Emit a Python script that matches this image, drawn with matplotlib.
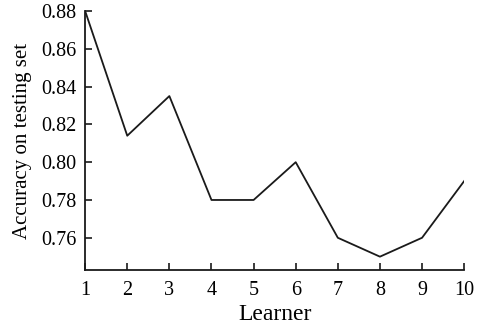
import matplotlib
matplotlib.use('Agg')
import matplotlib.pyplot as plt

learners = [1, 2, 3, 4, 5, 6, 7, 8, 9, 10]
accuracy = [0.88, 0.814, 0.835, 0.78, 0.78, 0.80, 0.76, 0.75, 0.76, 0.79]
y_ticks = [0.76, 0.78, 0.80, 0.82, 0.84, 0.86, 0.88]

plt.rcParams['font.family'] = ['Liberation Serif', 'DejaVu Serif']

fig = plt.figure(figsize=(4.81, 3.24), dpi=100)
ax = fig.add_axes([0.177, 0.167, 0.788, 0.799])

ax.plot(learners, accuracy, color='#1a1a1a', lw=1.3)

ax.set_xlim(1, 10)
ax.set_ylim(0.743, 0.88)
ax.set_xticks(learners)
ax.set_yticks(y_ticks)
ax.set_yticklabels(['%.2f' % v for v in y_ticks])

ax.spines['top'].set_visible(False)
ax.spines['right'].set_visible(False)
for s in ['left', 'bottom']:
    ax.spines[s].set_linewidth(1.3)
    ax.spines[s].set_color('#1a1a1a')
ax.tick_params(direction='in', length=5, width=1.2, labelsize=14.5, color='#1a1a1a')
ax.tick_params(axis='x', pad=8)
ax.tick_params(axis='y', pad=6)

ax.set_xlabel('Learner', fontsize=17, labelpad=3)
ax.set_ylabel('Accuracy on testing set', fontsize=15, labelpad=7)

fig.savefig('out.png', dpi=100)
